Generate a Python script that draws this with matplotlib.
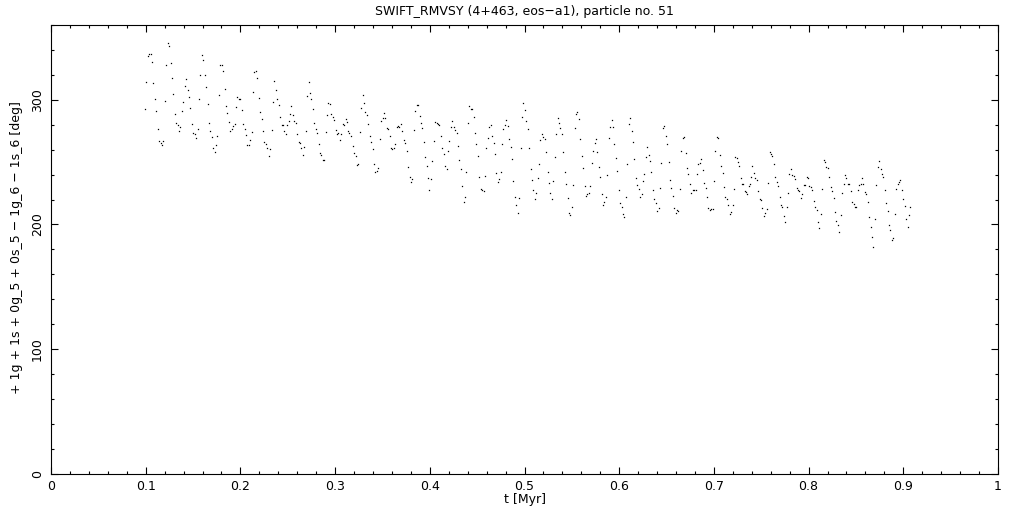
import matplotlib
matplotlib.use("Agg")
import matplotlib.pyplot as plt
from matplotlib.ticker import MultipleLocator, FixedLocator
import numpy as np

# ---- data (t in Myr, angle in deg) ----
t_seg1 = [0.0996, 0.1007, 0.1028, 0.1038, 0.1059, 0.1070, 0.1080, 0.1102, 0.1112, 0.1133,
          0.1144, 0.1165, 0.1176, 0.1186, 0.1207, 0.1218, 0.1239, 0.1250, 0.1271, 0.1281,
          0.1292, 0.1313, 0.1323, 0.1345, 0.1355, 0.1366, 0.1387, 0.1397, 0.1418, 0.1429,
          0.1450, 0.1461, 0.1471, 0.1492, 0.1503, 0.1524, 0.1535, 0.1556, 0.1566, 0.1577,
          0.1598, 0.1609, 0.1630, 0.1640, 0.1661, 0.1672, 0.1682, 0.1704, 0.1714, 0.1735,
          0.1746, 0.1756, 0.1778, 0.1788, 0.1809, 0.1820, 0.1841, 0.1851, 0.1862, 0.1883,
          0.1893, 0.1915, 0.1925, 0.1946, 0.1957, 0.1967, 0.1988, 0.1999, 0.2020, 0.2031,
          0.2052, 0.2062, 0.2073, 0.2094, 0.2105, 0.2126, 0.2136, 0.2147, 0.2168, 0.2179,
          0.2200, 0.2210, 0.2231, 0.2242, 0.2253, 0.2274, 0.2284, 0.2305]
deg_seg1 = [292.5, 314.2, 335.3, 336.7, 336.7, 330.3, 313.4, 300.6, 291.2, 276.5,
            266.8, 265.2, 263.6, 266.8, 299.2, 328.1, 345.5, 343.4, 329.5, 317.4,
            304.8, 288.5, 281.3, 279.7, 274.9, 278.1, 291.2, 298.4, 311.0, 316.6,
            307.8, 302.2, 293.3, 280.5, 273.3, 272.4, 269.2, 276.5, 300.6, 319.8,
            335.9, 331.9, 319.8, 310.2, 296.5, 281.3, 274.9, 270.0, 261.2, 258.0,
            263.6, 270.8, 303.8, 327.9, 327.9, 323.1, 308.6, 294.9, 289.3, 282.1,
            274.9, 276.5, 278.9, 280.5, 294.1, 302.2, 300.6, 300.6, 291.7, 280.5,
            276.5, 271.6, 263.6, 263.6, 267.6, 274.1, 306.2, 322.3, 323.1, 317.4,
            301.4, 290.1, 284.5, 274.9, 266.0, 264.4, 261.2, 254.8]

t_seg2 = [0.2316, 0.2337, 0.2348, 0.2358, 0.2379, 0.2390, 0.2411, 0.2421, 0.2443, 0.2453,
          0.2464, 0.2485, 0.2495, 0.2516, 0.2527, 0.2538, 0.2559, 0.2569, 0.2590, 0.2601,
          0.2622, 0.2632, 0.2643, 0.2664, 0.2675, 0.2696, 0.2706, 0.2727, 0.2738, 0.2748,
          0.2770, 0.2780, 0.2801, 0.2812, 0.2833, 0.2844, 0.2854, 0.2875, 0.2886, 0.2907,
          0.2918, 0.2928, 0.2949, 0.2960, 0.2981, 0.2991, 0.3013, 0.3023, 0.3034, 0.3055,
          0.3065, 0.3087, 0.3097, 0.3118, 0.3129, 0.3139, 0.3150, 0.3171, 0.3192, 0.3203,
          0.3224, 0.3234, 0.3245, 0.3266, 0.3277, 0.3298, 0.3308, 0.3319, 0.3340, 0.3351,
          0.3372, 0.3382, 0.3404, 0.3414, 0.3425, 0.3446, 0.3456, 0.3477, 0.3488, 0.3509,
          0.3520, 0.3530, 0.3551, 0.3562, 0.3583, 0.3594, 0.3604, 0.3625, 0.3636, 0.3657,
          0.3667, 0.3678, 0.3699, 0.3710, 0.3731, 0.3741, 0.3762, 0.3773, 0.3794, 0.3805,
          0.3815, 0.3836, 0.3847, 0.3868, 0.3879, 0.3900, 0.3910, 0.3921, 0.3942, 0.3952,
          0.3974, 0.3984, 0.3995, 0.4016, 0.4026, 0.4047, 0.4058, 0.4079, 0.4090, 0.4100]
deg_seg2 = [260.4, 275.7, 298.2, 315.3, 308.0, 300.8, 296.0, 286.3, 279.7, 279.7,
            275.1, 272.7, 279.7, 282.9, 288.5, 294.9, 287.7, 282.9, 281.5, 272.4,
            266.0, 265.2, 261.2, 255.6, 262.0, 275.1, 303.0, 314.2, 305.4, 300.6,
            292.5, 281.5, 276.5, 273.3, 264.4, 257.2, 255.6, 251.6, 251.6, 274.3,
            287.7, 297.4, 296.5, 288.5, 286.1, 283.7, 275.7, 272.7, 273.5, 267.6,
            272.4, 280.5, 279.7, 284.5, 282.1, 275.1, 273.3, 270.8, 262.8, 257.2,
            254.8, 247.6, 248.4, 274.1, 293.3, 303.8, 297.4, 290.1, 287.7, 280.5,
            270.8, 266.0, 260.4, 248.4, 242.0, 242.7, 245.1, 268.4, 282.9, 285.3,
            289.3, 285.3, 277.8, 276.5, 270.8, 261.2, 260.4, 261.2, 264.4, 278.1,
            278.9, 278.1, 280.5, 274.9, 267.6, 265.2, 258.8, 245.9, 237.9, 233.9,
            236.3, 275.7, 290.9, 295.7, 295.7, 286.9, 281.3, 277.3, 266.0, 253.9,
            246.7, 237.1, 227.5, 236.5, 250.8, 266.8, 282.1, 281.3, 280.5, 279.7]

t_seg3 = [0.4121, 0.4132, 0.4153, 0.4163, 0.4185, 0.4195, 0.4206, 0.4227, 0.4237, 0.4259,
          0.4269, 0.4290, 0.4301, 0.4311, 0.4333, 0.4343, 0.4364, 0.4375, 0.4385, 0.4407,
          0.4417, 0.4438, 0.4449, 0.4470, 0.4480, 0.4491, 0.4512, 0.4523, 0.4544, 0.4554,
          0.4575, 0.4586, 0.4597, 0.4618, 0.4628, 0.4649, 0.4660, 0.4681, 0.4691, 0.4702,
          0.4723, 0.4734, 0.4755, 0.4765, 0.4776, 0.4797, 0.4808, 0.4829, 0.4839, 0.4861,
          0.4871, 0.4882, 0.4903, 0.4913, 0.4935, 0.4945, 0.4966, 0.4977, 0.4987, 0.5008,
          0.5019, 0.5040, 0.5051, 0.5072, 0.5082, 0.5093, 0.5114, 0.5124, 0.5146, 0.5156,
          0.5167, 0.5188, 0.5198, 0.5220, 0.5230, 0.5251, 0.5262, 0.5272, 0.5293, 0.5304,
          0.5325, 0.5336, 0.5357, 0.5367, 0.5378, 0.5399, 0.5410, 0.5431, 0.5441, 0.5462,
          0.5473, 0.5484, 0.5505, 0.5515, 0.5536, 0.5547, 0.5557, 0.5579, 0.5589, 0.5610,
          0.5621, 0.5642, 0.5652, 0.5663, 0.5684, 0.5695, 0.5716, 0.5726, 0.5747, 0.5758,
          0.5768, 0.5790, 0.5800, 0.5821, 0.5832, 0.5843, 0.5864, 0.5874, 0.5895]
deg_seg3 = [270.8, 261.2, 256.4, 246.7, 244.3, 258.8, 266.8, 278.1, 282.9, 278.1,
            275.7, 273.3, 262.8, 251.6, 244.3, 230.7, 217.8, 221.9, 241.9, 281.3,
            294.9, 292.5, 292.5, 286.1, 273.3, 264.4, 254.8, 237.9, 228.3, 227.5,
            226.7, 238.7, 261.2, 269.2, 278.1, 279.7, 270.8, 265.2, 256.4, 241.1,
            233.9, 236.3, 241.9, 264.4, 276.5, 279.7, 283.7, 278.9, 268.4, 262.0,
            252.4, 234.7, 221.9, 215.4, 209.0, 221.1, 261.2, 286.1, 297.4, 291.7,
            282.9, 276.5, 261.2, 244.3, 235.5, 227.5, 220.2, 225.1, 237.1, 248.4,
            267.6, 272.4, 270.0, 268.4, 258.0, 241.9, 233.1, 225.1, 220.2, 234.7,
            254.0, 272.4, 285.3, 281.3, 277.3, 272.4, 258.0, 241.9, 232.3, 221.1,
            209.0, 207.4, 213.8, 231.5, 277.3, 288.5, 290.1, 284.5, 268.4, 254.8,
            245.1, 230.7, 222.7, 224.3, 225.1, 230.7, 249.2, 258.8, 265.2, 268.4,
            258.0, 246.0, 237.9, 224.3, 215.4, 217.8, 221.9, 239.5, 269.2]

t_seg4 = [0.5906, 0.5927, 0.5938, 0.5948, 0.5969, 0.5980, 0.6001, 0.6011, 0.6033, 0.6043,
          0.6054, 0.6075, 0.6085, 0.6106, 0.6117, 0.6138, 0.6149, 0.6159, 0.6180, 0.6191,
          0.6212, 0.6223, 0.6244, 0.6254, 0.6265, 0.6286, 0.6297, 0.6318, 0.6328, 0.6339,
          0.6360, 0.6370, 0.6392, 0.6402, 0.6423, 0.6434, 0.6444, 0.6466, 0.6476, 0.6497,
          0.6508, 0.6529, 0.6539, 0.6550, 0.6571, 0.6582, 0.6603, 0.6613, 0.6624, 0.6645,
          0.6656, 0.6677, 0.6687, 0.6709, 0.6719, 0.6730, 0.6751, 0.6761, 0.6782, 0.6793,
          0.6814, 0.6825, 0.6835, 0.6856, 0.6867, 0.6888, 0.6899, 0.6920, 0.6930, 0.6941,
          0.6962, 0.6973, 0.6994, 0.7004, 0.7015, 0.7036, 0.7046, 0.7068, 0.7078, 0.7099,
          0.7110, 0.7120, 0.7142, 0.7152, 0.7173, 0.7184, 0.7205, 0.7215, 0.7226, 0.7247,
          0.7258, 0.7268, 0.7289, 0.7300, 0.7310, 0.7332, 0.7342, 0.7353, 0.7374, 0.7384,
          0.7395, 0.7405, 0.7427, 0.7437, 0.7458, 0.7469, 0.7490, 0.7500, 0.7511, 0.7532,
          0.7543, 0.7564, 0.7574, 0.7595, 0.7606, 0.7616, 0.7638, 0.7648, 0.7669, 0.7680]
deg_seg4 = [278.1, 283.7, 278.1, 264.4, 253.2, 242.7, 227.5, 217.0, 213.8, 208.2,
            205.8, 221.9, 248.4, 280.5, 285.3, 274.9, 266.0, 252.4, 237.1, 231.5,
            228.3, 221.9, 224.3, 234.7, 240.3, 254.0, 262.0, 255.6, 250.8, 241.9,
            227.5, 220.2, 217.0, 210.6, 213.0, 229.1, 249.2, 277.3, 278.9, 270.8,
            264.4, 250.0, 235.5, 229.1, 222.7, 213.0, 209.0, 211.4, 210.6, 228.3,
            258.8, 269.2, 270.0, 257.2, 245.1, 240.3, 232.3, 225.1, 227.5, 227.5,
            227.5, 240.3, 248.4, 249.2, 252.4, 243.5, 233.1, 229.1, 221.9, 213.0,
            211.4, 212.2, 212.2, 234.7, 258.8, 270.0, 269.2, 255.6, 246.7, 241.1,
            229.9, 221.9, 220.2, 215.4, 208.2, 209.8, 215.4, 228.3, 254.0, 253.2,
            250.0, 246.7, 237.1, 232.3, 232.3, 226.7, 225.9, 224.3, 230.7, 232.3,
            237.9, 246.7, 241.1, 237.1, 235.5, 226.7, 220.2, 219.4, 213.0, 206.6,
            209.0, 212.2, 233.1, 258.0, 256.4, 254.8, 248.4, 237.9, 233.9, 230.7]

t_seg5 = [0.7698, 0.7709, 0.7719, 0.7740, 0.7751, 0.7772, 0.7782, 0.7793, 0.7814, 0.7825,
          0.7846, 0.7856, 0.7878, 0.7888, 0.7899, 0.7920, 0.7931, 0.7952, 0.7962, 0.7983,
          0.7994, 0.8004, 0.8025, 0.8036, 0.8057, 0.8068, 0.8089, 0.8099, 0.8110, 0.8131,
          0.8141, 0.8163, 0.8173, 0.8184, 0.8205, 0.8215, 0.8237, 0.8247, 0.8268, 0.8279,
          0.8289, 0.8310, 0.8321, 0.8342, 0.8353, 0.8374, 0.8384, 0.8395, 0.8416, 0.8427,
          0.8448, 0.8458, 0.8479, 0.8490, 0.8500, 0.8522, 0.8532, 0.8553, 0.8564, 0.8574,
          0.8596, 0.8606, 0.8627, 0.8638, 0.8659, 0.8669, 0.8680, 0.8701, 0.8712, 0.8733,
          0.8743, 0.8765, 0.8775, 0.8786, 0.8807, 0.8817, 0.8838, 0.8849, 0.8860, 0.8881,
          0.8891, 0.8912, 0.8923, 0.8944, 0.8955, 0.8965, 0.8986, 0.8997, 0.9018, 0.9029,
          0.9050, 0.9061, 0.9071]
deg_seg5 = [221.8, 215.4, 213.8, 206.6, 201.8, 213.8, 225.1, 240.3, 244.3, 239.5,
            238.7, 236.3, 229.1, 227.5, 226.7, 221.1, 224.3, 231.5, 231.5, 237.9,
            237.1, 230.7, 229.9, 227.5, 218.6, 213.8, 211.4, 201.8, 197.0, 208.2,
            228.3, 251.6, 250.0, 246.0, 245.1, 237.9, 229.9, 226.7, 221.1, 209.8,
            202.6, 199.4, 193.7, 207.4, 225.1, 232.3, 239.5, 237.1, 232.3, 232.3,
            226.7, 217.8, 216.2, 213.8, 213.8, 227.5, 231.5, 232.3, 237.1, 232.3,
            225.9, 224.3, 217.8, 205.8, 197.8, 189.7, 181.7, 204.2, 231.5, 246.0,
            250.8, 244.3, 240.3, 237.9, 227.5, 217.0, 210.6, 199.4, 195.3, 187.3,
            188.9, 208.2, 228.3, 232.3, 233.9, 235.5, 227.5, 220.2, 214.6, 204.2,
            197.8, 207.4, 213.8]

x_ticks = [0, 0.1, 0.2, 0.3, 0.4, 0.5, 0.6, 0.7, 0.8, 0.9, 1.0]
x_tick_labels = ["0", "0.1", "0.2", "0.3", "0.4", "0.5", "0.6", "0.7", "0.8", "0.9", "1"]
y_ticks = [0, 100, 200, 300]
y_tick_labels = ["0", "100", "200", "300"]

title = "SWIFT_RMVSY (4+463, eos\u2212a1), particle no. 51"
x_label = "t [Myr]"
y_label = "+ 1g + 1s + 0g_5 + 0s_5 \u2212 1g_6 \u2212 1s_6 [deg]"

# ---- assemble ----
t_all, deg_all = [], []
for tt, dd in [(t_seg1, deg_seg1), (t_seg2, deg_seg2), (t_seg3, deg_seg3),
               (t_seg4, deg_seg4), (t_seg5, deg_seg5)]:
    n = min(len(tt), len(dd))
    t_all.extend(tt[:n])
    deg_all.extend(dd[:n])
t_all = np.array(t_all)
deg_all = np.array(deg_all)

plt.rcParams["font.family"] = ["DejaVu Sans"]
W, H = 1021, 511
fig = plt.figure(figsize=(W / 100, H / 100), dpi=100)
fig.patch.set_facecolor("white")
left, right, top, bottom = 51, 998, 25.3, 473.5
ax = fig.add_axes([left / W, (H - bottom) / H, (right - left) / W, (bottom - top) / H])

ax.plot(t_all, deg_all, linestyle="none", marker="s", markersize=0.9,
        markeredgewidth=0, color="black")

ax.set_xlim(0, 1)
ax.set_ylim(0, 360)
ax.xaxis.set_major_locator(FixedLocator(x_ticks))
ax.set_xticklabels(x_tick_labels)
ax.xaxis.set_minor_locator(MultipleLocator(0.02))
ax.yaxis.set_major_locator(FixedLocator(y_ticks))
ax.set_yticklabels(y_tick_labels)
ax.yaxis.set_minor_locator(MultipleLocator(20))

for s in ax.spines.values():
    s.set_linewidth(0.8)
ax.tick_params(which="both", direction="in", top=True, right=True, width=0.8,
               labelsize=9, colors="black")
ax.tick_params(which="major", length=5)
ax.tick_params(which="minor", length=2.5)
ax.tick_params(axis="x", which="major", pad=5)
ax.tick_params(axis="y", which="major", pad=5)
for lab in ax.get_yticklabels():
    lab.set_rotation(90)
    lab.set_va("center")

fig.text(0.5 * (left + right) / W, 1 - 12 / H, title, ha="center", va="center", fontsize=9)
fig.text(525 / W, 1 - 500 / H, x_label, ha="center", va="center", fontsize=9)
fig.text(17 / W, 1 - 248 / H, y_label, ha="center", va="center", rotation=90, fontsize=9)

fig.savefig("out.png", dpi=100, facecolor="white")
